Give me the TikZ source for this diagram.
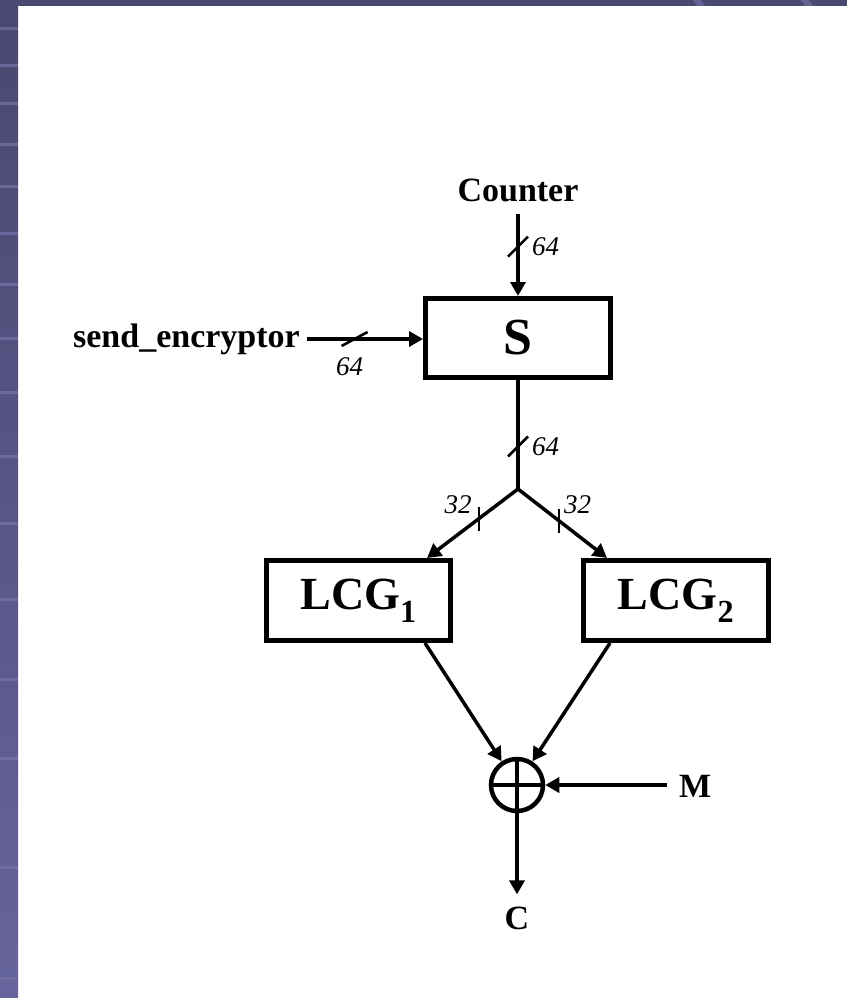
\documentclass[tikz,border=0pt]{standalone}
\usepackage{fontspec}
\setmainfont{Liberation Serif}
\usetikzlibrary{positioning,calc,arrows.meta}
\definecolor{slideband}{RGB}{74,71,112}
\definecolor{slidebandlo}{RGB}{102,100,156}
\definecolor{slidestripe}{RGB}{118,116,168}

\begin{document}
\begin{tikzpicture}[x=1pt,y=-1pt,
  block/.style={draw,line width=5pt,fill=white,inner sep=0pt,align=center,font=\bfseries\fontsize{46}{50}\selectfont},
  wire/.style={line width=4.5pt,-{Triangle[length=14pt,width=15pt]}},
  thinwire/.style={wire,line width=3.5pt},
  tick/.style={line width=2.6pt},
  buslbl/.style={inner sep=1pt,font=\itshape\fontsize{27}{30}\selectfont},
  lbl/.style={inner sep=2pt,font=\bfseries\fontsize{34}{40}\selectfont},
  xorop/.style={draw,circle,line width=4.5pt,minimum size=52pt,inner sep=0pt,
    path picture={\draw[line width=3.5pt] (path picture bounding box.north) -- (path picture bounding box.south)
      (path picture bounding box.west) -- (path picture bounding box.east);}}
]
  \useasboundingbox (0,0) rectangle (847,998);
  \fill[white] (0,0) rectangle (847,998);
  \fill[slideband] (0,0) rectangle (847,6);
  \fill[slidestripe!60!slideband] (693,0) -- (701,0) -- (705,6) -- (697,6) -- cycle;
  \fill[slidestripe!60!slideband] (801,0) -- (809,0) -- (813,6) -- (805,6) -- cycle;
  \shade[top color=slideband,bottom color=slidebandlo] (0,0) rectangle (18,998);
  \foreach \yy in {27,64,102,143,185,232,283,337,391,455,522,598,678,757,866,977}
    \fill[slidestripe,opacity=.7] (0,\yy) rectangle (18,{\yy+3});

  \node[lbl] (counter) at (518,190) {Counter};
  \node[block,minimum width=185pt,minimum height=79pt,font=\bfseries\fontsize{52}{56}\selectfont] (s) at (518,338) {S};
  \node[lbl,anchor=east] (send) at (302,339) {send\_encryptor};
  \coordinate (split) at (518,489);
  \node[block,minimum width=184pt,minimum height=80pt] (lcg1) at (358.5,600.5) {LCG\textsubscript{1}};
  \node[block,minimum width=185pt,minimum height=80pt] (lcg2) at (676,600.5) {LCG\textsubscript{2}};
  \node[xorop] (xor) at (517,785) {};
  \node[lbl,anchor=west] (m) at (677,786) {M};
  \node[lbl] (c) at (517,918) {C};

  \draw[wire] ([yshift=-10pt]counter.south) -- coordinate[pos=.4] (t1) (s.north);
  \draw[wire] ([xshift=5pt]send.east) -- coordinate[pos=.41] (t2) (send.east -| s.west);
  \draw[line width=4.5pt] (s.south) -- coordinate[pos=.61] (t3) (split);
  \draw[thinwire] (split) -- coordinate[pos=.43] (t4) ([xshift=-26pt]lcg1.north east);
  \draw[thinwire] (split) -- coordinate[pos=.46] (t5) ([xshift=26pt]lcg2.north west);
  \draw[thinwire] ([xshift=-28pt]lcg1.south east) -- (xor);
  \draw[thinwire] ([xshift=29pt]lcg2.south west) -- (xor);
  \draw[wire] ([xshift=-10pt]m.west |- xor.east) -- (xor.east);
  \draw[wire] (xor) -- ([yshift=10pt]c.north);

  \draw[tick] ([shift={(-10pt,-10pt)}]t1) -- ([shift={(10pt,10pt)}]t1);
  \draw[tick] ([shift={(-13pt,-7pt)}]t2) -- ([shift={(13pt,7pt)}]t2);
  \draw[tick] ([shift={(-10pt,-10pt)}]t3) -- ([shift={(10pt,10pt)}]t3);
  \draw[tick] ([yshift=-12pt]t4) -- ([yshift=12pt]t4);
  \draw[tick] ([yshift=-12pt]t5) -- ([yshift=12pt]t5);

  \node[buslbl,right=13pt of t1] (w1) {64};
  \node[buslbl,below=17pt of t2,xshift=-5pt] (w2) {64};
  \node[buslbl,right=13pt of t3] (w3) {64};
  \node[buslbl,above left=4pt and 6pt of t4] (w4) {32};
  \node[buslbl,above right=6pt and 4pt of t5] (w5) {32};
\end{tikzpicture}
\end{document}
